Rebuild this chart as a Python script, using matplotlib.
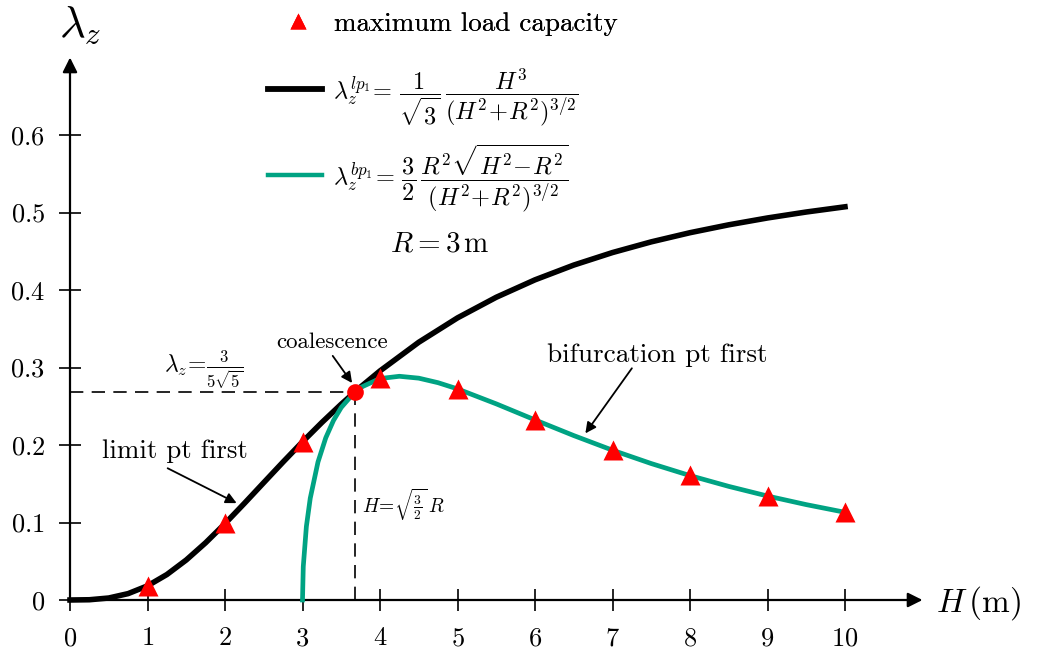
import matplotlib
matplotlib.use("Agg")
import matplotlib.pyplot as plt
from matplotlib.lines import Line2D

plt.rcParams['mathtext.fontset'] = 'cm'
plt.rcParams['font.family'] = ['cmr10', 'DejaVu Serif']

# limit point curve (lp1), R = 3 m
H_lp = [0, 0.25, 0.5, 0.75, 1, 1.25, 1.5, 1.75, 2, 2.25, 2.5, 2.75, 3, 3.25, 3.5,
        3.75, 4, 4.5, 5, 5.5, 6, 6.5, 7, 7.5, 8, 8.5, 9, 9.5, 10]
lam_lp = [0, 0.00033, 0.00257, 0.00824, 0.01826, 0.03285, 0.05164, 0.07386, 0.09854,
          0.12471, 0.15148, 0.17813, 0.20412, 0.22906, 0.25270, 0.27490, 0.29560,
          0.33258, 0.36403, 0.39063, 0.41312, 0.43216, 0.44832, 0.46212, 0.47394,
          0.48412, 0.49295, 0.50063, 0.50735]

# bifurcation point curve (bp1)
H_bp = [3, 3.01, 3.05, 3.1, 3.2, 3.3, 3.4, 3.5, 3.674, 3.75, 4, 4.25, 4.5, 4.75, 5,
        5.5, 6, 6.5, 7, 7.5, 8, 8.5, 9, 9.5, 10]
lam_bp = [0, 0.04312, 0.09483, 0.13133, 0.17813, 0.20922, 0.23170, 0.24845, 0.26833,
          0.27427, 0.28574, 0.28867, 0.28624, 0.28038, 0.27238, 0.25308, 0.23238,
          0.21217, 0.19329, 0.17606, 0.16052, 0.14660, 0.13416, 0.12307, 0.11317]

# maximum load capacity
H_max = [1, 2, 3, 4, 5, 6, 7, 8, 9, 10]
lam_max = [0.018, 0.099, 0.204, 0.286, 0.272, 0.232, 0.193, 0.161, 0.134, 0.113]

H_c, lam_c = 3.674, 0.268

xticks = [0, 1, 2, 3, 4, 5, 6, 7, 8, 9, 10]
yticks = [0, 0.1, 0.2, 0.3, 0.4, 0.5, 0.6]
ytick_labels = ['0', '0.1', '0.2', '0.3', '0.4', '0.5', '0.6']

green = '#00a383'

fig = plt.figure(figsize=(10.39, 6.49), dpi=100)
ax = fig.add_axes([70/1039, 49/649, 852.5/1039, 542.5/649])
ax.set_xlim(0, 11)
ax.set_ylim(0, 0.7)
for s in ax.spines.values():
    s.set_visible(False)

# axes with arrow heads
ax.annotate('', xy=(1, 0), xytext=(0, 0), xycoords='axes fraction',
            arrowprops=dict(arrowstyle='-|>', lw=1.6, color='k', mutation_scale=22,
                            shrinkA=0, shrinkB=0))
ax.annotate('', xy=(0, 1), xytext=(0, 0), xycoords='axes fraction',
            arrowprops=dict(arrowstyle='-|>', lw=1.6, color='k', mutation_scale=22,
                            shrinkA=0, shrinkB=0))

ax.set_xticks(xticks, labels=[f'${t}$' for t in xticks])
ax.set_yticks(yticks, labels=[f'${t}$' for t in ytick_labels])
ax.tick_params(axis='both', direction='inout', length=16, width=1.2, labelsize=19)
ax.tick_params(axis='x', pad=11)
ax.tick_params(axis='y', pad=10)

ax.plot(H_lp, lam_lp, color='k', lw=4, clip_on=False, zorder=3)
ax.plot(H_bp, lam_bp, color=green, lw=3.4, clip_on=False, zorder=3)
ax.plot(H_max, lam_max, '^', color='red', ms=14, mec='none', zorder=5, clip_on=False)

ax.plot([0, H_c], [lam_c, lam_c], 'k--', lw=1.2, dashes=(8, 5), zorder=2)
ax.plot([H_c, H_c], [0, lam_c], 'k--', lw=1.2, dashes=(8, 5), zorder=2)
ax.plot([H_c], [lam_c], 'o', color='red', ms=12, mec='none', zorder=6)

# axis labels
ax.text(0.13, 0.742, r'$\lambda_z$', fontsize=32, ha='center', va='center')
ax.text(11.72, -0.004, r'$H\,(\mathrm{m})$', fontsize=24, ha='center', va='center')

ax.text(1.72, 0.297, r'$\lambda_z\!=\!\frac{3}{5\sqrt{5}}$', fontsize=17,
        ha='center', va='center')
ax.text(3.77, 0.112, r'$H\!=\!\sqrt{\frac{3}{2}}\,R$', fontsize=14, ha='left',
        va='baseline')
ax.text(4.77, 0.450, r'$R = 3\,\mathrm{m}$', fontsize=21, ha='center', va='baseline')

arr = dict(arrowstyle='-|>', lw=1.3, color='k', mutation_scale=16, shrinkA=0, shrinkB=0)
ax.text(3.38, 0.325, 'coalescence', fontsize=16.5, ha='center', va='baseline')
ax.annotate('', xy=(3.64, 0.280), xytext=(3.39, 0.315), arrowprops=arr)
ax.text(1.35, 0.183, 'limit pt first', fontsize=19.4, ha='center', va='baseline')
ax.annotate('', xy=(2.15, 0.125), xytext=(1.26, 0.170), arrowprops=arr)
ax.text(7.58, 0.307, 'bifurcation pt first', fontsize=19.6, ha='center', va='baseline')
ax.annotate('', xy=(6.65, 0.215), xytext=(7.25, 0.299), arrowprops=arr)

h_max = Line2D([], [], ls='none', marker='^', color='red', ms=12, mec='none')
leg1 = fig.legend([h_max], ['maximum load capacity'], loc='upper left',
                  bbox_to_anchor=(268/1039, 1 - 12/649), frameon=False, fontsize=19.5,
                  handlelength=2.2, handletextpad=0.22, borderpad=0, borderaxespad=0)

handles = [Line2D([], [], color='k', lw=4.2), Line2D([], [], color=green, lw=3.2)]
labels = [
    r'$\lambda_z^{lp_1}\!=\,\dfrac{1}{\sqrt{3}}\,\dfrac{H^3}{(H^2\!+\!R^2)^{3/2}}$',
    r'$\lambda_z^{bp_1}\!=\,\dfrac{3}{2}\,\dfrac{R^2\sqrt{H^2\!-\!R^2}}{(H^2\!+\!R^2)^{3/2}}$',
]
fig.legend(handles, labels, loc='upper left', bbox_to_anchor=(268/1039, 1 - 66/649),
           frameon=False, fontsize=17.5, handlelength=2.22, handletextpad=0.45,
           borderpad=0, borderaxespad=0, labelspacing=0.58)
fig.add_artist(leg1)

fig.savefig('out.png', dpi=100)
